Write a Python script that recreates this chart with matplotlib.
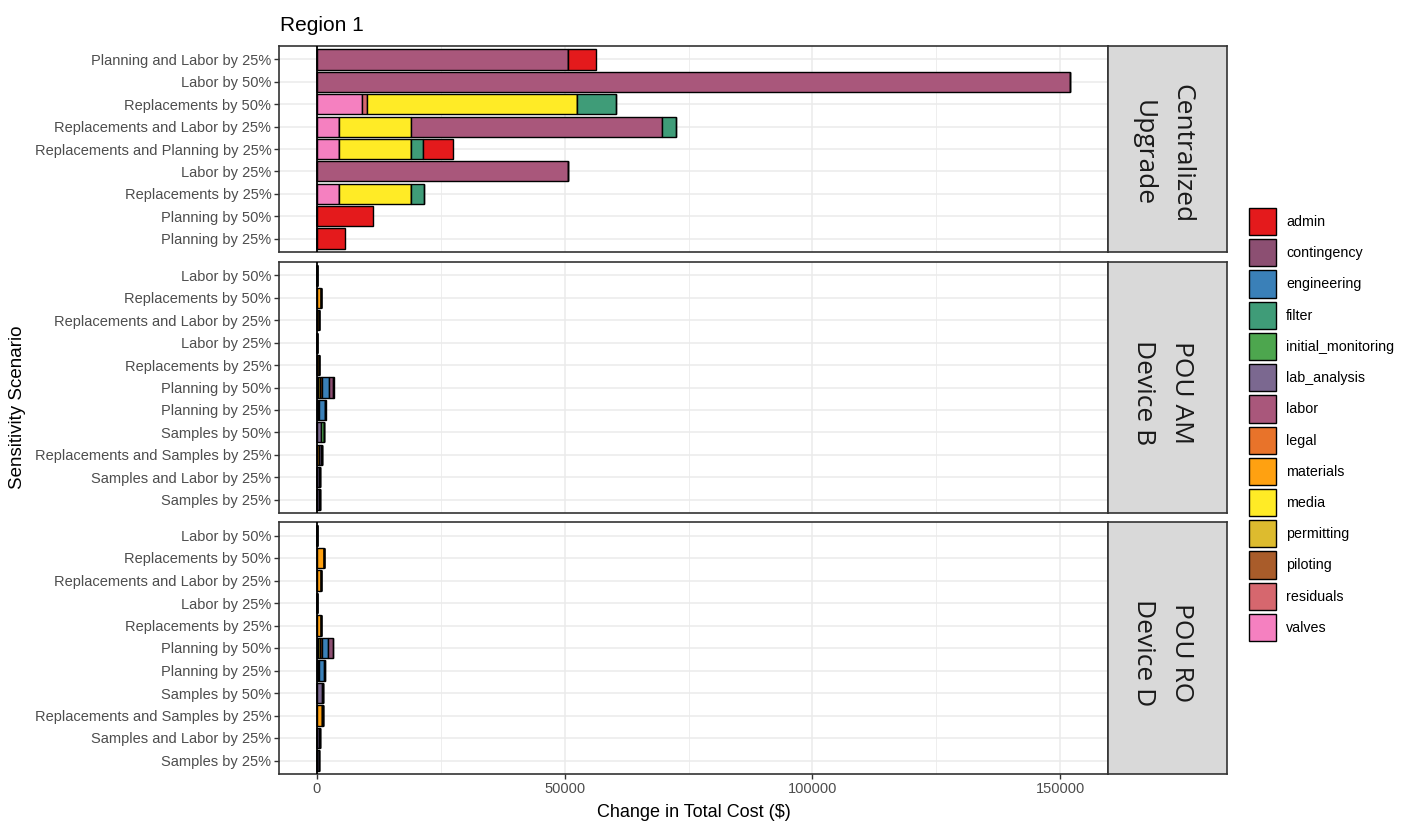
import matplotlib

matplotlib.use("Agg")
import matplotlib.pyplot as plt
from matplotlib.patches import Patch

plt.rcParams["font.family"] = ["Liberation Sans", "DejaVu Sans"]

# cost components (legend order) and their fill colours
components = ["admin", "contingency", "engineering", "filter", "initial_monitoring",
              "lab_analysis", "labor", "legal", "materials", "media", "permitting",
              "piloting", "residuals", "valves"]
colors = ["#E41A1C", "#8C4F72", "#3A80B8", "#3F9C78", "#4DA64E",
          "#7B6890", "#A9577B", "#E8732A", "#FFA111", "#FFEB26", "#DDBB2E",
          "#A95C2A", "#D6676E", "#F580C0"]

# scenarios listed top to bottom
cu_scenarios = ["Planning and Labor by 25%", "Labor by 50%", "Replacements by 50%",
                "Replacements and Labor by 25%", "Replacements and Planning by 25%",
                "Labor by 25%", "Replacements by 25%", "Planning by 50%", "Planning by 25%"]
cu_values = {
    "admin":  [5700, 0, 0, 0, 5900, 0, 0, 11400, 5700],
    "filter": [0, 0, 7800, 2800, 2500, 0, 2600, 0, 0],
    "labor":  [50600, 152000, 0, 50600, 0, 50600, 0, 0, 0],
    "media":  [0, 0, 42300, 14500, 14500, 0, 14500, 0, 0],
    "residuals": [0, 0, 1000, 0, 0, 0, 0, 0, 0],
    "valves": [0, 0, 9200, 4500, 4500, 0, 4500, 0, 0],
}

pou_scenarios = ["Labor by 50%", "Replacements by 50%", "Replacements and Labor by 25%",
                 "Labor by 25%", "Replacements by 25%", "Planning by 50%", "Planning by 25%",
                 "Samples by 50%", "Replacements and Samples by 25%",
                 "Samples and Labor by 25%", "Samples by 25%"]
am_values = {
    "admin":        [0, 0, 0, 0, 0, 100, 50, 0, 0, 0, 0],
    "contingency":  [0, 0, 0, 0, 0, 800, 150, 0, 0, 0, 0],
    "engineering":  [0, 0, 0, 0, 0, 1550, 1100, 0, 0, 0, 0],
    "initial_monitoring": [0, 0, 0, 0, 0, 0, 0, 500, 250, 250, 250],
    "lab_analysis": [0, 0, 0, 0, 0, 0, 0, 900, 500, 450, 450],
    "labor":        [0, 0, 50, 30, 0, 0, 0, 0, 0, 50, 0],
    "legal":        [0, 0, 0, 0, 0, 400, 200, 0, 0, 0, 0],
    "materials":    [0, 800, 400, 0, 400, 0, 0, 0, 400, 0, 0],
    "permitting":   [0, 0, 0, 0, 0, 300, 150, 0, 0, 0, 0],
    "piloting":     [0, 0, 0, 0, 0, 300, 150, 0, 0, 0, 0],
}
ro_values = {
    "admin":        [0, 0, 0, 0, 0, 100, 50, 0, 0, 0, 0],
    "contingency":  [0, 0, 0, 0, 0, 1000, 150, 0, 0, 0, 0],
    "engineering":  [0, 0, 0, 0, 0, 1200, 1000, 0, 0, 0, 0],
    "initial_monitoring": [0, 0, 0, 0, 0, 0, 0, 200, 100, 150, 150],
    "lab_analysis": [0, 0, 0, 0, 0, 0, 0, 1000, 200, 400, 400],
    "labor":        [0, 0, 50, 30, 0, 0, 0, 0, 0, 50, 0],
    "legal":        [0, 0, 0, 0, 0, 400, 200, 0, 0, 0, 0],
    "materials":    [0, 1500, 800, 0, 800, 0, 0, 0, 1000, 0, 0],
    "permitting":   [0, 0, 0, 0, 0, 300, 150, 0, 0, 0, 0],
    "piloting":     [0, 0, 0, 0, 0, 300, 150, 0, 0, 0, 0],
}

panels = [
    ("Centralized\nUpgrade", cu_scenarios, cu_values),
    ("POU AM\nDevice B", pou_scenarios, am_values),
    ("POU RO\nDevice D", pou_scenarios, ro_values),
]

W, H = 1413, 826
fig = plt.figure(figsize=(W / 100, H / 100), dpi=100)

# panel boxes in pixels: (top, bottom)
boxes = [(46, 252), (262, 513), (522, 774)]
left_px, right_px, strip_right = 279, 1108, 1227
xlim = (-7600, 159600)
color_map = dict(zip(components, colors))
border = "#333333"

axes = []
for (label, scen, vals), (top, bot) in zip(panels, boxes):
    ax = fig.add_axes([left_px / W, 1 - bot / H, (right_px - left_px) / W, (bot - top) / H])
    n = len(scen)
    ypos = [n - i for i in range(n)]
    left = [0] * n
    # stack from zero: last component nearest the axis
    for comp in reversed(components):
        if comp not in vals:
            continue
        v = vals[comp]
        ax.barh(ypos, v, left=left, height=0.9, color=color_map[comp],
                edgecolor="black", linewidth=1.0, zorder=3)
        left = [a + b for a, b in zip(left, v)]
    ax.axvline(0, color="black", lw=1.3, zorder=4)
    ax.set_xlim(*xlim)
    ax.set_ylim(0.4, n + 0.6)
    ax.set_yticks(ypos)
    ax.set_yticklabels(scen)
    ax.set_xticks([0, 50000, 100000, 150000])
    ax.set_xticks([25000, 75000, 125000], minor=True)
    ax.set_yticks([], minor=True)
    ax.grid(True, which="major", color="#EBEBEB", lw=1.1, zorder=0)
    ax.grid(True, which="minor", axis="x", color="#EBEBEB", lw=0.6, zorder=0)
    ax.tick_params(axis="both", which="major", length=3.5, color=border, width=1,
                   labelsize=10.5, labelcolor="#4D4D4D", pad=2)
    ax.tick_params(axis="x", which="minor", length=0)
    for s in ax.spines.values():
        s.set_color(border)
        s.set_linewidth(1.2)
    ax.set_axisbelow(True)
    if (top, bot) != boxes[-1]:
        ax.tick_params(axis="x", which="major", length=0, labelbottom=False)
    # facet strip
    sax = fig.add_axes([right_px / W, 1 - bot / H, (strip_right - right_px) / W, (bot - top) / H])
    sax.set_xticks([])
    sax.set_yticks([])
    sax.set_facecolor("#D9D9D9")
    for s in sax.spines.values():
        s.set_color(border)
        s.set_linewidth(1.2)
    sax.text(0.46, 0.48, label, rotation=-90, ha="center", va="center", fontsize=19,
             family=["Open Sans", "DejaVu Sans"], linespacing=1.7, color="#1A1A1A",
             transform=sax.transAxes)
    axes.append(ax)

axes[-1].set_xticklabels(["0", "50000", "100000", "150000"])
axes[-1].set_xlabel("Change in Total Cost ($)", fontsize=13, labelpad=6)
fig.text(18 / W, 1 - 407 / H, "Sensitivity Scenario", rotation=90, ha="center",
         va="center", fontsize=13.5)
fig.text(280 / W, 1 - 31 / H, "Region 1", ha="left", va="baseline", fontsize=15)

handles = [Patch(facecolor=c, edgecolor="black", linewidth=1.0, label=k)
           for k, c in zip(components, colors)]
fig.legend(handles=handles, loc="upper left", bbox_to_anchor=(1249 / W, 1 - 208 / H),
           frameon=False, fontsize=10.3, handlelength=1.9, handleheight=2.55,
           labelspacing=0.28, handletextpad=0.7, borderaxespad=0, borderpad=0)

fig.savefig("out.png", dpi=100)
